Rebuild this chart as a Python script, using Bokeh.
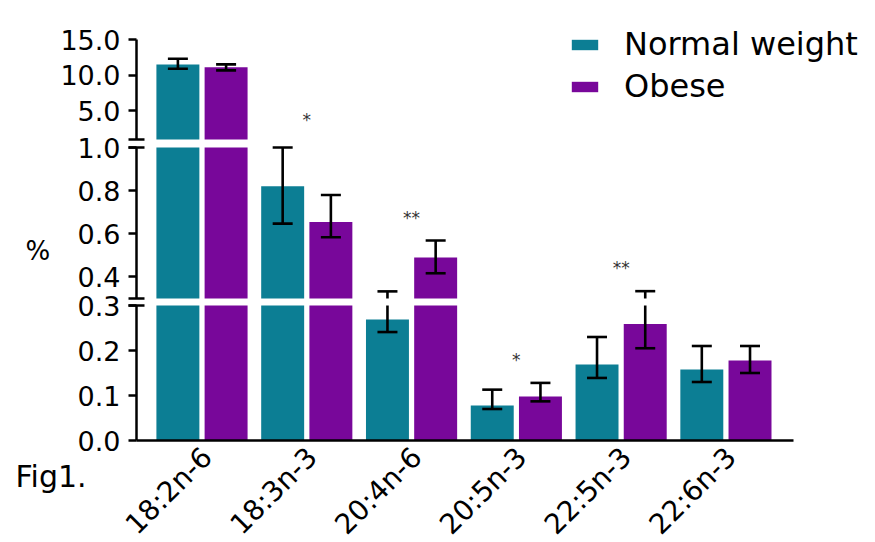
import math
from bokeh.plotting import figure
from bokeh.models import (Range1d, FixedTicker, NumeralTickFormatter, LinearAxis,
                          ColumnDataSource, Legend, LegendItem, Label)
from bokeh.transform import dodge
from bokeh.embed import file_html
from bokeh.resources import INLINE
from bokeh.core.properties import value

# ---- data ----
categories = ["18:2n-6", "18:3n-3", "20:4n-6", "20:5n-3", "22:5n-3", "22:6n-3"]
normal = [11.5, 0.82, 0.269, 0.078, 0.169, 0.158]
normal_upper = [12.3, 1.0, 0.333, 0.113, 0.23, 0.21]
normal_lower = [10.9, 0.647, 0.241, 0.070, 0.139, 0.13]
obese = [11.1, 0.655, 0.49, 0.098, 0.259, 0.178]
obese_upper = [11.52, 0.78, 0.569, 0.128, 0.334, 0.21]
obese_lower = [10.68, 0.584, 0.417, 0.087, 0.205, 0.15]

star_cats = ["18:3n-3", "20:4n-6", "20:5n-3", "22:5n-3"]
star_text = ["*", "**", "*", "**"]
star_y = [3.73, 0.672, 0.178, 0.442]

# broken y axis: segments (name, start, end, ticks, break marks)
segments = [
    ("top", 1.0, 15.0, [5.0, 10.0, 15.0], [1.0]),
    ("mid", 0.3, 1.0, [0.4, 0.6, 0.8, 1.0], [0.3, 1.0]),
    ("bot", 0.0, 0.3, [0.0, 0.1, 0.2, 0.3], [0.3]),
]
# pixel placement of each segment (pixel of start, pixel of end), measured from the top
seg_pixels = {"top": (139, 39), "mid": (298, 147), "bot": (440, 305)}

TEAL = "#0C7E94"
PURPLE = "#78079A"
FONT = "DejaVu Sans"

W, H = 875, 540
AX_X0, AX_X1 = -0.625, 5.645          # x extent of the x axis line
PPU = 657 / (AX_X1 - AX_X0)           # px per category unit, axis starts at px 136
x_start = AX_X0 - 136 / PPU
OFF, BW = 0.23, 0.41
n = len(categories)


def seg_range(s, e, ps, pe):
    ppu = (ps - pe) / (e - s)
    return Range1d(s - (H - ps) / ppu, e + pe / ppu)


ranges = {name: seg_range(s, e, *seg_pixels[name]) for name, s, e, _, _ in segments}

p = figure(width=W, height=H, x_range=Range1d(x_start, x_start + W / PPU),
           y_range=ranges["bot"], extra_y_ranges={"top": ranges["top"], "mid": ranges["mid"]},
           y_axis_location=None, min_border=0,
           output_backend="svg", toolbar_location=None)
p.outline_line_color = None
p.grid.visible = False
p.background_fill_color = "white"
p.border_fill_color = "white"

legend_renderers = []
for name, s, e, ticks, breaks in segments:
    rname = "default" if name == "bot" else name
    for vals, up, lo, color, off in ((normal, normal_upper, normal_lower, TEAL, -OFF),
                                     (obese, obese_upper, obese_lower, PURPLE, OFF)):
        idx = [i for i in range(n) if vals[i] > s]
        bars = ColumnDataSource(dict(x=idx, bottom=[max(s, 0.0)] * len(idx),
                                     top=[min(vals[i], e) for i in idx]))
        keep = [i for i in range(n) if up[i] > s and lo[i] < e]
        lines = ColumnDataSource(dict(x=keep, y0=[max(lo[i], s) for i in keep],
                                      y1=[min(up[i], e) for i in keep]))
        cx, cy = [], []
        for arr in (up, lo):
            for i in range(n):
                if s < arr[i] <= e + 1e-9:
                    cx.append(i)
                    cy.append(arr[i])
        caps = ColumnDataSource(dict(x=cx, y=cy))
        xx = dodge("x", off)
        r = p.vbar(x=xx, bottom="bottom", top="top", width=BW, source=bars,
                   fill_color=color, line_color=None, y_range_name=rname)
        if name == "top":
            legend_renderers.append(r)
        p.segment(x0=xx, y0="y0", x1=xx, y1="y1", source=lines, line_color="black",
                  line_width=2.6, y_range_name=rname)
        p.scatter(x=xx, y="y", marker="dash", size=20, source=caps, line_color="black",
                  line_width=2.6, y_range_name=rname)

    sk = [k for k in range(len(star_y)) if s < star_y[k] < e]
    ssrc = ColumnDataSource(dict(x=[categories.index(star_cats[k]) for k in sk],
                                 y=[star_y[k] for k in sk], txt=[star_text[k] for k in sk]))
    p.text(x="x", y="y", text="txt", source=ssrc, text_align="center", text_baseline="middle",
           text_font=value(FONT), text_font_size="17px", text_color="#333333", y_range_name=rname)

    ax = LinearAxis(y_range_name=rname, fixed_location=AX_X0, bounds=(s, e),
                    ticker=FixedTicker(ticks=ticks, minor_ticks=breaks),
                    formatter=NumeralTickFormatter(format="0.0"))
    ax.axis_line_width = 2.5
    ax.axis_line_color = "black"
    ax.major_tick_out = 8
    ax.major_tick_in = 0
    ax.major_tick_line_width = 2.5
    ax.minor_tick_out = 8
    ax.minor_tick_in = 8
    ax.minor_tick_line_width = 2.5
    ax.major_label_text_font = FONT
    ax.major_label_text_font_size = "27px"
    ax.major_label_text_color = "black"
    ax.major_label_standoff = 8
    p.add_layout(ax, "left")

xa = p.xaxis[0]
xa.fixed_location = 0
xa.bounds = (AX_X0, AX_X1)
LABEL_SHIFT = 0.05
xa.ticker = FixedTicker(ticks=[i + LABEL_SHIFT for i in range(n)])
xa.major_label_overrides = {i + LABEL_SHIFT: c for i, c in enumerate(categories)}
xa.axis_line_width = 2.5
xa.axis_line_color = "black"
xa.major_tick_out = 0
xa.major_tick_in = 0
xa.minor_tick_out = 0
xa.minor_tick_in = 0
xa.major_label_orientation = math.pi / 4
xa.major_label_text_font = FONT
xa.major_label_text_font_size = "28px"
xa.major_label_text_color = "black"
xa.major_label_standoff = 12

legend = Legend(items=[LegendItem(label="Normal weight", renderers=[legend_renderers[0]]),
                       LegendItem(label="Obese", renderers=[legend_renderers[1]])],
                location=(568, 435), orientation="vertical",
                label_text_font=FONT, label_text_font_size="32px", label_text_color="black",
                glyph_width=33, glyph_height=13, label_standoff=23, spacing=4,
                padding=0, margin=0, border_line_color=None, background_fill_alpha=0)
p.add_layout(legend)

p.add_layout(Label(x=25, y=H - 250, x_units="screen", y_units="screen", text="%",
                   text_font=FONT, text_font_size="26px", text_baseline="middle",
                   text_color="black"))
p.add_layout(Label(x=15, y=H - 476, x_units="screen", y_units="screen", text="Fig1.",
                   text_font=FONT, text_font_size="30px", text_baseline="middle",
                   text_color="black"))

open("out.html", "w").write(file_html(p, INLINE))
